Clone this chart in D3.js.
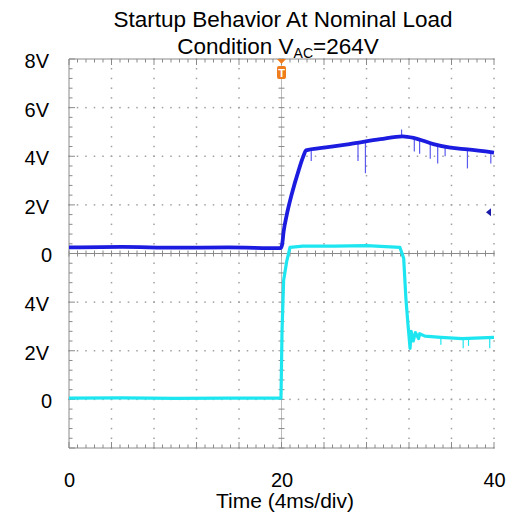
<!DOCTYPE html>
<html><head><meta charset="utf-8">
<script src="https://cdn.jsdelivr.net/npm/d3@7"></script>
<style>body{margin:0;background:#fff;} text{font-family:"Liberation Sans",Arial,sans-serif;fill:#000;}</style>
</head><body><svg id="c" width="511" height="516"></svg>
<script>
// ---- data ----
const xTickValues = [0, 20, 40];
const xTickLabels = ["0", "20", "40"];
const ch1TickValues = [8, 6, 4, 2, 0];
const ch1TickLabels = ["8V", "6V", "4V", "2V", "0"];
const ch2TickValues = [4, 2, 0];
const ch2TickLabels = ["4V", "2V", "0"];

// channel 1 (blue) : time (x units), volts
const ch1Time = [0, 5, 10, 15, 19.9, 20.05, 20.2, 20.5, 21.0, 21.6, 22.1, 22.3, 24, 26.4, 29.3, 31.4, 32.5, 34.3, 35.9, 37.5, 40];
const ch1Volt = [0.25, 0.27, 0.24, 0.25, 0.22, 0.35, 0.9, 1.6, 2.5, 3.4, 4.05, 4.24, 4.35, 4.5, 4.7, 4.82, 4.75, 4.5, 4.35, 4.28, 4.15];
// downward / upward glitches on channel 1 : time, extreme volts
const ch1SpikeTime = [22.8, 27.2, 27.9, 32.5, 33.0, 34.0, 34.7, 35.4, 37.5, 39.7, 31.3];
const ch1SpikeVolt = [3.8, 3.8, 3.3, 4.2, 4.1, 3.9, 3.7, 4.0, 3.5, 3.7, 5.1];

// channel 2 (cyan)
const ch2Time = [0, 5, 10, 15, 19.95, 20.05, 20.2, 20.5, 20.8, 22, 25, 28, 31.15, 31.5, 31.7, 31.9, 32.1, 32.2, 32.4, 32.6, 32.9, 33.0, 33.5, 35, 37, 40];
const ch2Volt = [0.05, 0.06, 0.04, 0.05, 0.05, 2.8, 4.9, 5.7, 6.25, 6.3, 6.3, 6.32, 6.25, 5.8, 4.2, 3.1, 2.1, 2.8, 2.4, 2.75, 2.5, 2.7, 2.6, 2.55, 2.5, 2.55];
const ch2SpikeTime = [35.0, 37.1, 37.6, 39.6];
const ch2SpikeVolt = [2.25, 2.1, 2.2, 2.1];

const markerVolt = 1.7;   // channel 1 reference marker on the right edge
const triggerTime = 20;

// ---- layout ----
const svg = d3.select("#c");
svg.append("rect").attr("width",511).attr("height",516).attr("fill","#fff");
const L = 69, R = 494, T = 59, B = 448;
const x = d3.scaleLinear().domain([0, 40]).range([L, R]);
const y1 = d3.scaleLinear().domain([-8, 8]).range([B, T]);
const y2 = d3.scaleLinear().domain([-2, 14]).range([B, T]);
const divX = d3.range(0, 41, 4);
const divY = d3.range(-8, 9, 2);
const g = svg.append("g");

// dotted grid
const dotC = "#a0a0a0";
divX.forEach(t => {
  if (t === 0 || t === 20) return;
  d3.range(-8, 8.01, 0.4).forEach(v => {
    g.append("rect").attr("x", x(t)-0.75).attr("y", y1(v)-0.75).attr("width",1.5).attr("height",1.5).attr("fill",dotC);
  });
});
divY.forEach(v => {
  if (v === 8 || v === 0 || v === -8) return;
  d3.range(0, 40.01, 0.8).forEach(t => {
    g.append("rect").attr("x", x(t)-0.75).attr("y", y1(v)-0.75).attr("width",1.5).attr("height",1.5).attr("fill",dotC);
  });
});

const axC = "#8a8a8a";
// borders
g.append("line").attr("x1",L).attr("x2",R).attr("y1",T).attr("y2",T).attr("stroke",axC);
g.append("line").attr("x1",L).attr("x2",R).attr("y1",B).attr("y2",B).attr("stroke",axC);
g.append("line").attr("x1",L).attr("x2",L).attr("y1",T).attr("y2",B).attr("stroke",axC);
// center axes
g.append("line").attr("x1",L).attr("x2",R).attr("y1",y1(0)).attr("y2",y1(0)).attr("stroke",axC);
g.append("line").attr("x1",x(20)).attr("x2",x(20)).attr("y1",T).attr("y2",B).attr("stroke","#bbb");
// minor ticks
d3.range(0, 40.01, 0.8).forEach((t,i) => {
  const big = i % 5 === 0 ? 6 : 3.5;
  g.append("line").attr("x1",x(t)).attr("x2",x(t)).attr("y1",T).attr("y2",T+big).attr("stroke",axC);
  g.append("line").attr("x1",x(t)).attr("x2",x(t)).attr("y1",B).attr("y2",B-big).attr("stroke",axC);
  g.append("line").attr("x1",x(t)).attr("x2",x(t)).attr("y1",y1(0)-3).attr("y2",y1(0)+3).attr("stroke",axC);
});
d3.range(-8, 8.01, 0.4).forEach((v,i) => {
  const big = i % 5 === 0 ? 6 : 3.5;
  g.append("line").attr("x1",L).attr("x2",L+big).attr("y1",y1(v)).attr("y2",y1(v)).attr("stroke",axC);
  g.append("line").attr("x1",x(20)-3).attr("x2",x(20)+3).attr("y1",y1(v)).attr("y2",y1(v)).attr("stroke",axC);
});

// traces
const blue = "#1c1ce0", cyan = "#1ee6f0";
const ch1 = ch1Time.map((t,i)=>({t, v: ch1Volt[i]}));
const ch2 = ch2Time.map((t,i)=>({t, v: ch2Volt[i]}));
ch2SpikeTime.forEach((t,i)=>{
  g.append("line").attr("x1",x(t)).attr("x2",x(t)).attr("y1",y2(2.55)).attr("y2",y2(ch2SpikeVolt[i])).attr("stroke",cyan).attr("stroke-width",1.2);
});
g.append("path").datum(ch2).attr("fill","none").attr("stroke",cyan).attr("stroke-width",3.2).attr("stroke-linejoin","round")
  .attr("d", d3.line().x(d=>x(d.t)).y(d=>y2(d.v)));
const ch1Line = d3.line().x(d=>x(d.t)).y(d=>y1(d.v)).curve(d3.curveMonotoneX);
ch1SpikeTime.forEach((t,i)=>{
  const base = d3.scaleLinear().domain(ch1Time).range(ch1Volt)(t);
  g.append("line").attr("x1",x(t)).attr("x2",x(t)).attr("y1",y1(base)).attr("y2",y1(ch1SpikeVolt[i])).attr("stroke","#5a5af0").attr("stroke-width",1.2);
});
g.append("path").datum(ch1).attr("fill","none").attr("stroke",blue).attr("stroke-width",3.8).attr("stroke-linejoin","round")
  .attr("d", ch1Line);

// ch1 marker on right
const my = y1(markerVolt);
g.append("path").attr("d", `M${R-8},${my} L${R-3},${my-4} L${R-3},${my+4} Z`).attr("fill","#1a1aa8");

// trigger marker
const tx = x(triggerTime);
g.append("path").attr("d", `M${tx-4.5},${T} L${tx+4.5},${T} L${tx},${T+5} Z`).attr("fill","#f07d1c");
g.append("rect").attr("x",tx-4.5).attr("y",T+7).attr("width",9).attr("height",13).attr("rx",2).attr("fill","#f07d1c");
g.append("text").attr("x",tx).attr("y",T+18).attr("text-anchor","middle").style("font-size","11px").style("font-weight","bold").style("fill","#fff").text("T");

// axes labels
const ax1 = d3.axisLeft(y1).tickValues(ch1TickValues).tickFormat((d,i)=>ch1TickLabels[i]).tickSize(0).tickPadding(0);
const a1 = svg.append("g").attr("transform","translate(49,2)").call(ax1);
const ax2 = d3.axisLeft(y2).tickValues(ch2TickValues).tickFormat((d,i)=>ch2TickLabels[i]).tickSize(0).tickPadding(0);
const a2 = svg.append("g").attr("transform","translate(49,2)").call(ax2);
const axx = d3.axisBottom(x).tickValues(xTickValues).tickFormat((d,i)=>xTickLabels[i]).tickSize(0).tickPadding(0);
const a3 = svg.append("g").attr("transform","translate(0,473)").call(axx);
[a1,a2,a3].forEach(a=>{
  a.select(".domain").remove();
  a.selectAll("text").style("font-size","20px").attr("font-family",null).style("fill","#000");
});
[a1,a2].forEach(a=>a.selectAll(".tick text").filter(function(){return this.textContent==="0";}).attr("x",3));

// titles
svg.append("text").attr("x",283).attr("y",27).attr("text-anchor","middle").style("font-size","22.5px").text("Startup Behavior At Nominal Load");
const t2 = svg.append("text").attr("x",278).attr("y",54).attr("text-anchor","middle").style("font-size","22.5px");
t2.append("tspan").text("Condition V");
t2.append("tspan").attr("dy",4).style("font-size","14px").text("AC");
t2.append("tspan").attr("dy",-4).text("=264V");
svg.append("text").attr("x",285).attr("y",508).attr("text-anchor","middle").style("font-size","21px").text("Time (4ms/div)");
</script></body></html>
